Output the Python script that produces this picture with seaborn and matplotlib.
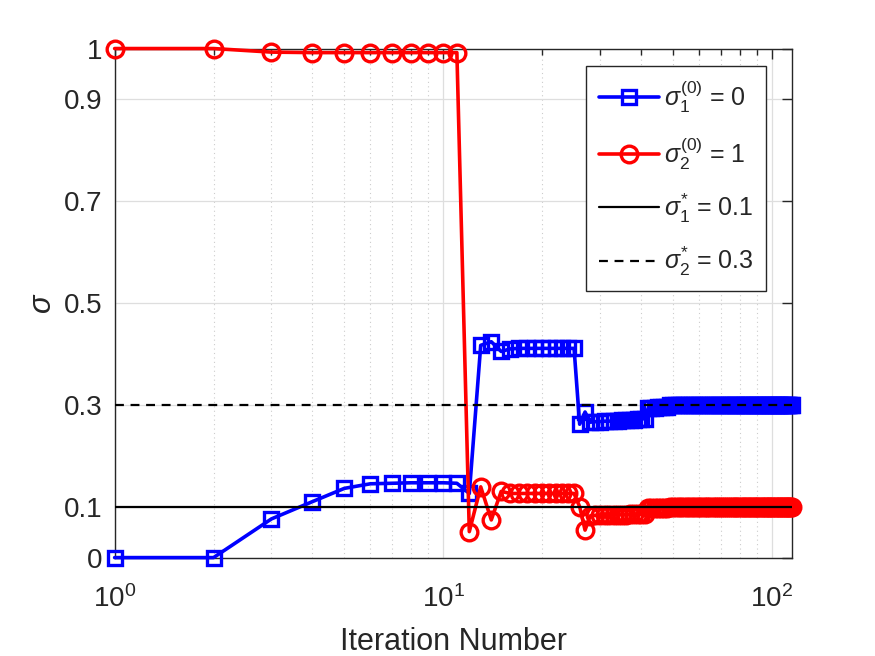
import numpy as np
import pandas as pd
import matplotlib
matplotlib.use("Agg")
import matplotlib.pyplot as plt
import seaborn as sns
from matplotlib.ticker import FixedLocator, LogLocator, NullFormatter

# iteration history
iterations = list(range(1, 116))

sigma1_hist = [
    0.000, 0.000, 0.076, 0.110, 0.136, 0.145, 0.146, 0.147, 0.147, 0.147,
    0.146, 0.126, 0.417, 0.424, 0.405, 0.410, 0.411, 0.411, 0.411, 0.411,
    0.411, 0.411, 0.411, 0.411, 0.411, 0.262, 0.286, 0.266, 0.267, 0.267,
    0.268, 0.268, 0.269, 0.269, 0.270, 0.270, 0.271, 0.271, 0.272, 0.272,
    0.273, 0.293, 0.294, 0.294, 0.295, 0.295, 0.296, 0.296, 0.299, 0.299,
    0.300, 0.300, 0.300, 0.300, 0.300, 0.300, 0.300, 0.300, 0.300, 0.300,
    0.300, 0.300, 0.300, 0.300, 0.300, 0.300, 0.300, 0.300, 0.300, 0.300,
    0.300, 0.300, 0.300, 0.300, 0.300, 0.300, 0.300, 0.300, 0.300, 0.300,
    0.300, 0.300, 0.300, 0.300, 0.300, 0.300, 0.300, 0.300, 0.300, 0.300,
    0.300, 0.300, 0.300, 0.300, 0.300, 0.300, 0.300, 0.300, 0.300, 0.300,
    0.300, 0.300, 0.300, 0.300, 0.300, 0.300, 0.300, 0.300, 0.300, 0.300,
    0.300, 0.300, 0.300, 0.300, 0.300,
]

sigma2_hist = [
    1.000, 1.000, 0.993, 0.992, 0.992, 0.992, 0.992, 0.992, 0.992, 0.992,
    0.992, 0.051, 0.139, 0.074, 0.130, 0.126, 0.126, 0.126, 0.126, 0.126,
    0.126, 0.126, 0.126, 0.126, 0.126, 0.100, 0.054, 0.082, 0.083, 0.083,
    0.083, 0.083, 0.084, 0.084, 0.084, 0.084, 0.085, 0.085, 0.085, 0.085,
    0.085, 0.097, 0.098, 0.098, 0.098, 0.098, 0.098, 0.098, 0.100, 0.100,
    0.100, 0.100, 0.100, 0.100, 0.100, 0.100, 0.100, 0.100, 0.100, 0.100,
    0.100, 0.100, 0.100, 0.100, 0.100, 0.100, 0.100, 0.100, 0.100, 0.100,
    0.100, 0.100, 0.100, 0.100, 0.100, 0.100, 0.100, 0.100, 0.100, 0.100,
    0.100, 0.100, 0.100, 0.100, 0.100, 0.100, 0.100, 0.100, 0.100, 0.100,
    0.100, 0.100, 0.100, 0.100, 0.100, 0.100, 0.100, 0.100, 0.100, 0.100,
    0.100, 0.100, 0.100, 0.100, 0.100, 0.100, 0.100, 0.100, 0.100, 0.100,
    0.100, 0.100, 0.100, 0.100, 0.100,
]

sigma_true = [0.1, 0.3]
y_ticks = [0, 0.1, 0.3, 0.5, 0.7, 0.9, 1]
y_tick_labels = ["0", "0.1", "0.3", "0.5", "0.7", "0.9", "1"]

df = pd.DataFrame({"iter": iterations, "s1": sigma1_hist, "s2": sigma2_hist})

sns.set_style("white")
plt.rcParams["font.family"] = ["Liberation Sans", "DejaVu Sans"]
plt.rcParams["mathtext.fontset"] = "custom"
plt.rcParams["mathtext.rm"] = "Liberation Sans"
plt.rcParams["mathtext.it"] = "Liberation Sans:italic"
plt.rcParams["mathtext.bf"] = "Liberation Sans:bold"

fig = plt.figure(figsize=(8.75, 6.56), dpi=100)
ax = fig.add_axes([0.131, 0.150, 0.774, 0.776])

sns.lineplot(data=df, x="iter", y="s1", ax=ax, color="#0000ff", lw=2.6,
             marker="s", ms=10, mfc="none", mec="#0000ff", mew=2.4,
             label=r"$\sigma_1^{(0)}$ = 0", clip_on=False, zorder=3)
sns.lineplot(data=df, x="iter", y="s2", ax=ax, color="#ff0000", lw=2.6,
             marker="o", ms=12, mfc="none", mec="#ff0000", mew=2.4,
             label=r"$\sigma_2^{(0)}$ = 1", clip_on=False, zorder=4)
ax.axhline(sigma_true[0], color="black", lw=1.6, ls="-",
           label=r"$\sigma_1^{*}$ = 0.1", zorder=5)
ax.axhline(sigma_true[1], color="black", lw=1.6, ls=(0, (4, 3)),
           label=r"$\sigma_2^{*}$ = 0.3", zorder=5)

ax.set_xscale("log")
ax.set_xlim(1, 115)
ax.set_ylim(0, 1)
ax.yaxis.set_major_locator(FixedLocator(y_ticks))
ax.set_yticklabels(y_tick_labels)
ax.xaxis.set_major_locator(LogLocator(base=10))
ax.xaxis.set_minor_locator(LogLocator(base=10, subs=np.arange(2, 10)))
ax.xaxis.set_minor_formatter(NullFormatter())

# matlab-like grid and box
ax.grid(True, which="major", color="#dedede", lw=0.9, ls="-")
ax.grid(True, which="minor", axis="x", color="#cccccc", lw=0.8, ls=(0, (1, 3)))
ax.set_axisbelow(True)
for s in ax.spines.values():
    s.set_color("#262626")
    s.set_linewidth(1.0)
ax.tick_params(which="both", direction="in", top=True, right=True,
               colors="#262626", labelsize=20, width=1.0)
ax.tick_params(which="major", length=7)
ax.tick_params(which="minor", length=4)
ax.tick_params(axis="x", pad=20)
ax.tick_params(axis="y", pad=9)

ax.set_xlabel("Iteration Number", fontsize=22, color="#262626", labelpad=10)
ax.set_ylabel(r"$\sigma$", fontsize=22, color="#262626", labelpad=4)

leg = ax.legend(loc="upper right", bbox_to_anchor=(766 / 875, 1 - 66 / 656),
                bbox_transform=fig.transFigure, borderaxespad=0,
                fontsize=18, frameon=True, fancybox=False,
                edgecolor="#262626", framealpha=1, handlelength=2.4,
                borderpad=0.5, labelspacing=0.8, handletextpad=0.2)
leg.get_frame().set_linewidth(1.0)

fig.savefig("out.png", dpi=100)
